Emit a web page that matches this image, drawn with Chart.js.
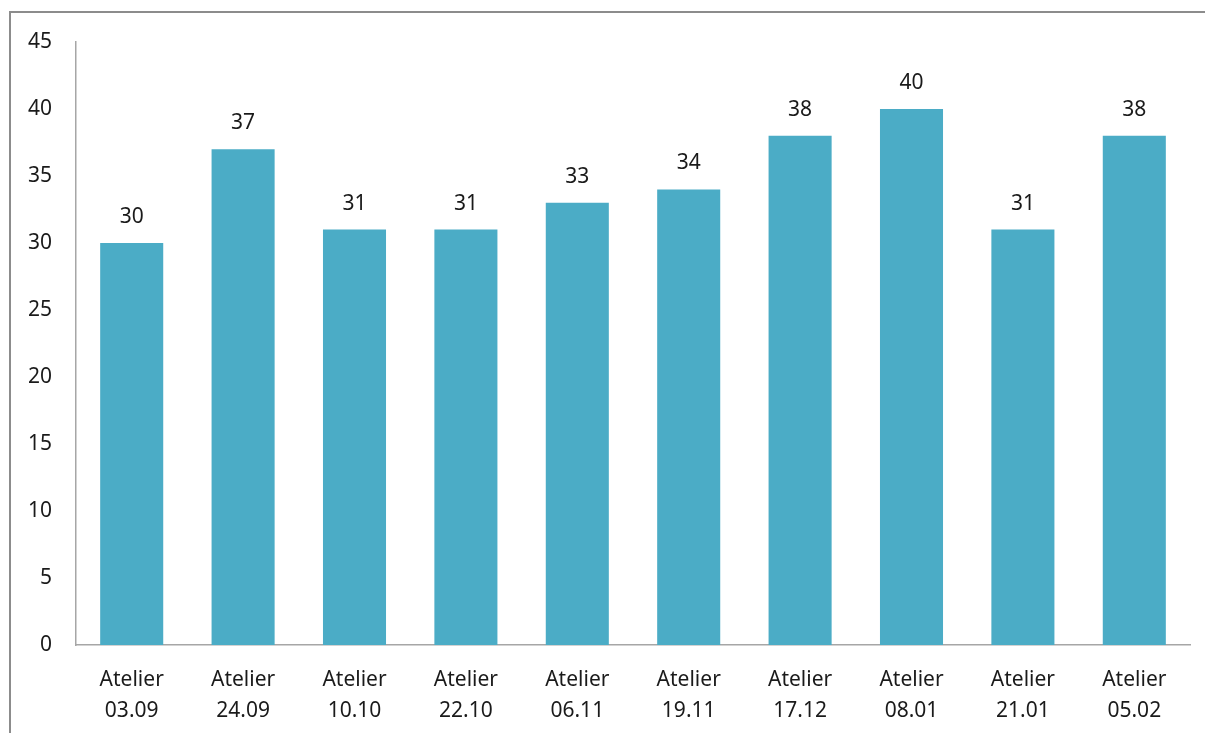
<!DOCTYPE html>
<html>
<head>
<meta charset="utf-8">
<script src="https://cdn.jsdelivr.net/npm/chart.js@4"></script>
<style>
  html, body { margin: 0; padding: 0; background: #fff; overflow: hidden; }
  #frame { position: absolute; left: 9px; top: 11px; width: 1400px; height: 900px; border: 2px solid #8c8c8c; }
  #wrap { position: absolute; left: 0; top: 0; width: 1205px; height: 733px; }
</style>
</head>
<body>
<div id="frame"></div>
<div id="wrap"><canvas id="myChart"></canvas></div>
<script>
// categories and values
const dates = ['03.09', '24.09', '10.10', '22.10', '06.11', '19.11', '17.12', '08.01', '21.01', '05.02'];
const participants = [30, 37, 31, 31, 33, 34, 38, 40, 31, 38];
const labels = dates.map(d => ['Atelier', d]);

const fontFamily = "'Noto Sans', 'Open Sans', sans-serif";

// draws the value above each bar
const valueLabels = {
    id: 'valueLabels',
    afterDatasetsDraw(chart) {
        const ctx = chart.ctx;
        const meta = chart.getDatasetMeta(0);
        ctx.save();
        ctx.font = '21px ' + fontFamily;
        ctx.fillStyle = '#1a1a1a';
        ctx.textAlign = 'center';
        ctx.textBaseline = 'middle';
        meta.data.forEach((bar, i) => {
            ctx.fillText(participants[i], bar.x, bar.y - 26);
        });
        ctx.restore();
    }
};

const ctx = document.getElementById('myChart').getContext('2d');
new Chart(ctx, {
    type: 'bar',
    data: {
        labels: labels,
        datasets: [{
            data: participants,
            backgroundColor: '#4BACC6',
            borderWidth: 0,
            categoryPercentage: 1,
            barPercentage: 0.566
        }]
    },
    options: {
        responsive: true,
        maintainAspectRatio: false,
        animation: false,
        layout: { padding: { top: 42, right: 15, left: 0, bottom: 0 } },
        plugins: {
            legend: { display: false },
            tooltip: { enabled: false }
        },
        scales: {
            x: {
                grid: { display: false, drawTicks: false },
                border: { display: true, color: '#a6a6a6', width: 1.5 },
                ticks: {
                    color: '#1a1a1a',
                    font: { family: fontFamily, size: 21, lineHeight: 1.48 },
                    padding: 19,
                    maxRotation: 0
                },
                afterFit(scale) { scale.height = 88; }
            },
            y: {
                min: 0,
                max: 45,
                grid: { display: false, drawTicks: false },
                border: { display: true, color: '#a6a6a6', width: 1.5 },
                ticks: {
                    stepSize: 5,
                    color: '#1a1a1a',
                    font: { family: fontFamily, size: 21 },
                    padding: 24
                },
                afterFit(scale) { scale.width = 76; }
            }
        }
    },
    plugins: [valueLabels]
});
</script>
</body>
</html>
